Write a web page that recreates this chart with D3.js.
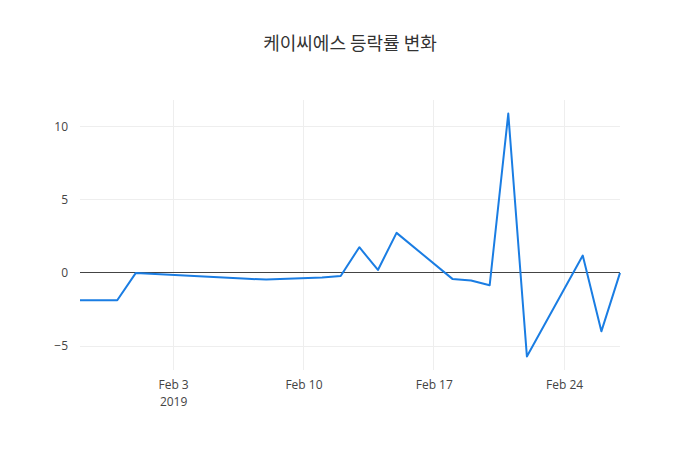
<!DOCTYPE html>
<html>
<head>
<meta charset="utf-8">
<script src="https://cdn.jsdelivr.net/npm/d3@7"></script>
<style>
  body { margin: 0; background: #fff; }
  svg text { font-family: "Open Sans", "Noto Sans CJK KR", sans-serif; }
</style>
</head>
<body>
<svg id="chart" width="700" height="450"></svg>
<script>
const title = "케이씨에스 등락률 변화";

// trading days and daily change (%)
const dates = [
  "2019-01-29", "2019-01-30", "2019-01-31", "2019-02-01", "2019-02-07",
  "2019-02-08", "2019-02-11", "2019-02-12", "2019-02-13", "2019-02-14",
  "2019-02-15", "2019-02-18", "2019-02-19", "2019-02-20", "2019-02-21",
  "2019-02-22", "2019-02-25", "2019-02-26", "2019-02-27"
];
const changes = [
  -1.87, -1.87, -1.87, 0, -0.40,
  -0.46, -0.32, -0.21, 1.75, 0.2,
  2.73, -0.41, -0.52, -0.85, 10.87,
  -5.70, 1.18, -3.99, 0
];
const yTicks = [-5, 0, 5, 10];
const xTickDates = ["2019-02-03", "2019-02-10", "2019-02-17", "2019-02-24"];

const width = 700, height = 450;
const margin = {top: 100, right: 80, bottom: 80, left: 80};

const parse = d3.utcParse("%Y-%m-%d");
const data = dates.map((d, i) => ({date: parse(d), value: changes[i]}));

const x = d3.scaleUtc()
  .domain(d3.extent(data, d => d.date))
  .range([margin.left, width - margin.right]);

const [lo, hi] = d3.extent(data, d => d.value);
const pad = (hi - lo) * 0.056;
const y = d3.scaleLinear()
  .domain([lo - pad, hi + pad])
  .range([height - margin.bottom, margin.top]);

const svg = d3.select("#chart");

// title
svg.append("text")
  .attr("x", width / 2)
  .attr("y", 50)
  .attr("text-anchor", "middle")
  .attr("fill", "#333")
  .style("font-size", "18px")
  .style("font-family", "'Noto Sans CJK KR', sans-serif")
  .text(title);

// gridlines
svg.append("g")
  .attr("shape-rendering", "crispEdges")
  .selectAll("line")
  .data(xTickDates.map(parse))
  .join("line")
    .attr("x1", d => x(d)).attr("x2", d => x(d))
    .attr("y1", margin.top).attr("y2", height - margin.bottom)
    .attr("stroke", "#eee");

svg.append("g")
  .attr("shape-rendering", "crispEdges")
  .selectAll("line")
  .data(yTicks.filter(v => v !== 0))
  .join("line")
    .attr("x1", margin.left).attr("x2", width - margin.right)
    .attr("y1", d => y(d)).attr("y2", d => y(d))
    .attr("stroke", "#eee");

// zero line
svg.append("line")
  .attr("shape-rendering", "crispEdges")
  .attr("x1", margin.left).attr("x2", width - margin.right)
  .attr("y1", y(0)).attr("y2", y(0))
  .attr("stroke", "#444");

// y axis labels
const yAxis = d3.axisLeft(y).tickValues(yTicks).tickSize(0).tickPadding(10)
  .tickFormat(d => d < 0 ? "\u2212" + Math.abs(d) : d);
svg.append("g")
  .attr("transform", `translate(${margin.left - 2},0)`)
  .call(yAxis)
  .call(g => g.select(".domain").remove())
  .call(g => g.selectAll("text")
    .attr("fill", "#444")
    .style("font-size", "12px")
    .style("font-family", "'Open Sans', sans-serif"));

// x axis labels
const fmt = d3.utcFormat("%b %-d");
const xAxis = d3.axisBottom(x).tickValues(xTickDates.map(parse)).tickSize(0).tickPadding(10)
  .tickFormat(fmt);
const gx = svg.append("g")
  .attr("transform", `translate(0,${height - margin.bottom})`)
  .call(xAxis)
  .call(g => g.select(".domain").remove());
gx.selectAll("text")
  .attr("fill", "#444")
  .style("font-size", "12px")
  .style("font-family", "'Open Sans', sans-serif");
gx.selectAll(".tick").filter((d, i) => i === 0)
  .append("text")
    .attr("y", 27)
    .attr("dy", "0.71em")
    .attr("text-anchor", "middle")
    .attr("fill", "#444")
    .style("font-size", "12px")
    .text("2019");

// line
const line = d3.line()
  .x(d => x(d.date))
  .y(d => y(d.value));

svg.append("path")
  .datum(data)
  .attr("fill", "none")
  .attr("stroke", "#1a7de3")
  .attr("stroke-width", 2)
  .attr("stroke-linejoin", "round")
  .attr("d", line);
</script>
</body>
</html>
